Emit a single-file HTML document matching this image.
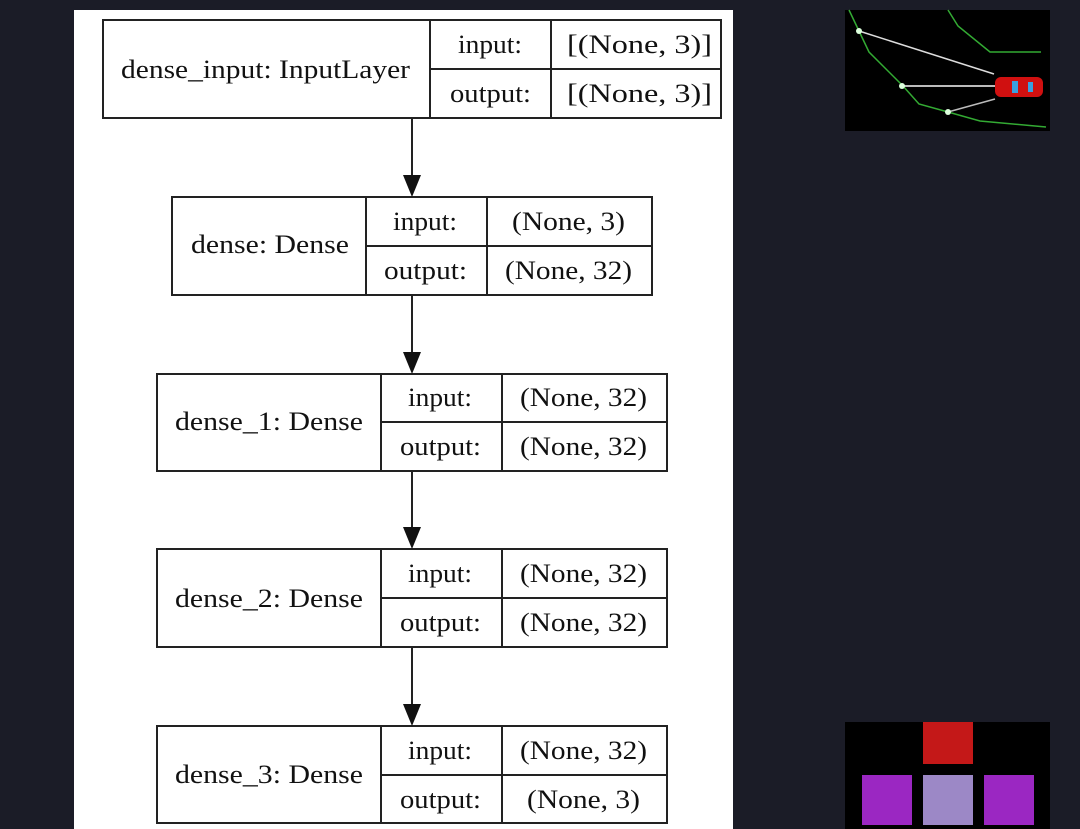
<!DOCTYPE html>
<html><head><style>
html,body{margin:0;padding:0;background:#1b1c27;width:1080px;height:829px;overflow:hidden}
svg{position:absolute;left:0;top:0}
text{font-family:"Liberation Serif",serif;font-size:26px;fill:#111}
</style></head><body>
<svg width="1080" height="829" viewBox="0 0 1080 829">
<rect x="74" y="10" width="659" height="819" fill="#fff"/>
<g stroke="#222" stroke-width="2" fill="none">
<rect x="103" y="20" width="618" height="98"/>
<line x1="430" y1="20" x2="430" y2="118"/><line x1="551" y1="20" x2="551" y2="118"/><line x1="430" y1="69" x2="721" y2="69"/>
<rect x="172" y="197" width="480" height="98"/>
<line x1="366" y1="197" x2="366" y2="295"/><line x1="487" y1="197" x2="487" y2="295"/><line x1="366" y1="246" x2="652" y2="246"/>
<rect x="157" y="374" width="510" height="97"/>
<line x1="381" y1="374" x2="381" y2="471"/><line x1="502" y1="374" x2="502" y2="471"/><line x1="381" y1="422" x2="667" y2="422"/>
<rect x="157" y="549" width="510" height="98"/>
<line x1="381" y1="549" x2="381" y2="647"/><line x1="502" y1="549" x2="502" y2="647"/><line x1="381" y1="598" x2="667" y2="598"/>
<rect x="157" y="726" width="510" height="97"/>
<line x1="381" y1="726" x2="381" y2="823"/><line x1="502" y1="726" x2="502" y2="823"/><line x1="381" y1="775" x2="667" y2="775"/>
<line x1="412" y1="118" x2="412" y2="178"/><line x1="412" y1="295" x2="412" y2="355"/>
<line x1="412" y1="471" x2="412" y2="530"/><line x1="412" y1="647" x2="412" y2="707"/>
</g>
<g fill="#111">
<polygon points="403,175 421,175 412,197"/><polygon points="403,352 421,352 412,374"/>
<polygon points="403,527 421,527 412,549"/><polygon points="403,704 421,704 412,726"/>
</g>
<g lengthAdjust="spacingAndGlyphs">
<text x="121" y="78" textLength="289" lengthAdjust="spacingAndGlyphs">dense_input: InputLayer</text>
<text x="458" y="53" textLength="64" lengthAdjust="spacingAndGlyphs">input:</text>
<text x="450" y="102" textLength="81" lengthAdjust="spacingAndGlyphs">output:</text>
<text x="567" y="53" textLength="145" lengthAdjust="spacingAndGlyphs">[(None, 3)]</text>
<text x="567" y="102" textLength="145" lengthAdjust="spacingAndGlyphs">[(None, 3)]</text>

<text x="191" y="253" textLength="158" lengthAdjust="spacingAndGlyphs">dense: Dense</text>
<text x="393" y="230" textLength="64" lengthAdjust="spacingAndGlyphs">input:</text>
<text x="384" y="279" textLength="83" lengthAdjust="spacingAndGlyphs">output:</text>
<text x="512" y="230" textLength="113" lengthAdjust="spacingAndGlyphs">(None, 3)</text>
<text x="505" y="279" textLength="127" lengthAdjust="spacingAndGlyphs">(None, 32)</text>

<text x="175" y="430" textLength="188" lengthAdjust="spacingAndGlyphs">dense_1: Dense</text>
<text x="408" y="406" textLength="64" lengthAdjust="spacingAndGlyphs">input:</text>
<text x="400" y="455" textLength="81" lengthAdjust="spacingAndGlyphs">output:</text>
<text x="520" y="406" textLength="127" lengthAdjust="spacingAndGlyphs">(None, 32)</text>
<text x="520" y="455" textLength="127" lengthAdjust="spacingAndGlyphs">(None, 32)</text>

<text x="175" y="607" textLength="188" lengthAdjust="spacingAndGlyphs">dense_2: Dense</text>
<text x="408" y="582" textLength="64" lengthAdjust="spacingAndGlyphs">input:</text>
<text x="400" y="631" textLength="81" lengthAdjust="spacingAndGlyphs">output:</text>
<text x="520" y="582" textLength="127" lengthAdjust="spacingAndGlyphs">(None, 32)</text>
<text x="520" y="631" textLength="127" lengthAdjust="spacingAndGlyphs">(None, 32)</text>

<text x="175" y="783" textLength="188" lengthAdjust="spacingAndGlyphs">dense_3: Dense</text>
<text x="408" y="759" textLength="64" lengthAdjust="spacingAndGlyphs">input:</text>
<text x="400" y="808" textLength="81" lengthAdjust="spacingAndGlyphs">output:</text>
<text x="520" y="759" textLength="127" lengthAdjust="spacingAndGlyphs">(None, 32)</text>
<text x="527" y="808" textLength="113" lengthAdjust="spacingAndGlyphs">(None, 3)</text>
</g>
<rect x="845" y="10" width="205" height="121" fill="#000"/>
<polyline points="849,10 869,52 903,86 919,104 948,112 980,121 1046,127" fill="none" stroke="#3a3" stroke-width="1.5"/>
<polyline points="948,10 958,26 990,52 1041,52" fill="none" stroke="#3a3" stroke-width="1.5"/>
<line x1="859" y1="31" x2="994" y2="74" stroke="#ddd" stroke-width="1.5"/>
<line x1="902" y1="86" x2="995" y2="86" stroke="#bbb" stroke-width="2"/>
<line x1="948" y1="112" x2="995" y2="99" stroke="#bbb" stroke-width="1.5"/>
<circle cx="859" cy="31" r="3" fill="#dfd"/><circle cx="902" cy="86" r="3" fill="#dfd"/><circle cx="948" cy="112" r="3" fill="#dfd"/>
<rect x="995" y="77" width="48" height="20" rx="6" fill="#d01010"/>
<rect x="1012" y="81" width="6" height="12" fill="#3aa0e0"/><rect x="1028" y="82" width="5" height="10" fill="#3aa0e0"/>
<rect x="845" y="722" width="205" height="107" fill="#000"/>
<rect x="923" y="722" width="50" height="42" fill="#c41818"/>
<rect x="862" y="775" width="50" height="50" fill="#9b27c2"/>
<rect x="923" y="775" width="50" height="50" fill="#9c88c6"/>
<rect x="984" y="775" width="50" height="50" fill="#9b27c2"/>
</svg>
</body></html>
